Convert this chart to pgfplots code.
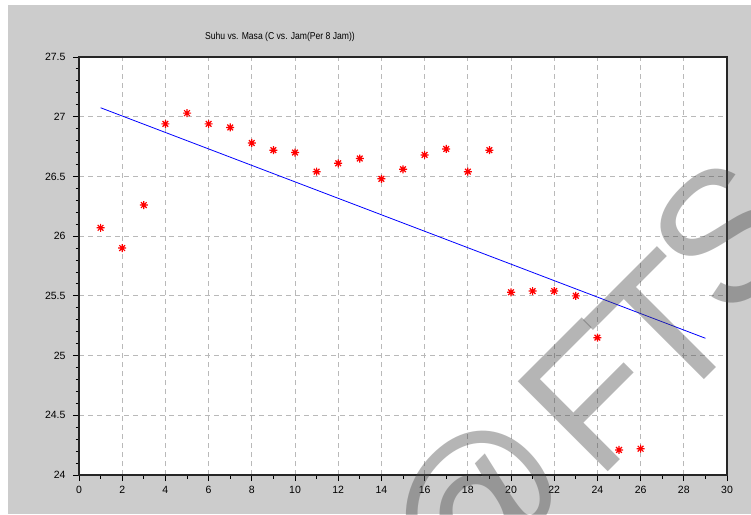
\documentclass[border=0pt]{standalone}
\usepackage{pgfplots}
\pgfplotsset{compat=1.18}
\usepackage{fontspec}
\setmainfont{Liberation Sans}
\definecolor{figbg}{RGB}{204,204,204}
\definecolor{gridc}{RGB}{185,185,185}

% eight-armed star like the plotting program's marker
\pgfdeclareplotmark{star8}{%
  \pgfpathmoveto{\pgfqpoint{-\pgfplotmarksize}{0pt}}\pgfpathlineto{\pgfqpoint{\pgfplotmarksize}{0pt}}%
  \pgfpathmoveto{\pgfqpoint{0pt}{-\pgfplotmarksize}}\pgfpathlineto{\pgfqpoint{0pt}{\pgfplotmarksize}}%
  \pgfpathmoveto{\pgfqpoint{-0.71\pgfplotmarksize}{-0.71\pgfplotmarksize}}\pgfpathlineto{\pgfqpoint{0.71\pgfplotmarksize}{0.71\pgfplotmarksize}}%
  \pgfpathmoveto{\pgfqpoint{-0.71\pgfplotmarksize}{0.71\pgfplotmarksize}}\pgfpathlineto{\pgfqpoint{0.71\pgfplotmarksize}{-0.71\pgfplotmarksize}}%
  \pgfusepathqstroke}

\begin{document}
\begin{tikzpicture}[x=1pt,y=1pt]
\fill[white] (0,0) rectangle (751,514);
\fill[figbg] (8,0) rectangle (751,509);
\begin{axis}[
  at={(79pt,39pt)}, anchor=south west,
  scale only axis, width=648pt, height=418pt,
  xmin=0, xmax=30, ymin=24, ymax=27.5,
  xtick distance=2, ytick distance=0.5,
  minor x tick num=1, minor y tick num=4,
  tick align=outside, xtick pos=bottom, ytick pos=left,
  major tick length=6pt, minor tick length=3.5pt,
  axis background/.style={fill=white},
  grid=major,
  major grid style={gridc, dash pattern=on 5pt off 4pt, line width=0.8pt},
  axis line style={black!85, line width=1.1pt},
  tick style={black, line width=0.9pt},
  ticklabel style={font=\fontsize{10.5}{10.5}\selectfont},
  /pgf/number format/assume math mode=true,
  xticklabel style={yshift=-2pt},
  yticklabel style={xshift=-4pt},
]
\addplot[only marks, mark=star8, mark size=4pt, red, line width=1.2pt] coordinates {
(1,26.07)(2,25.90)(3,26.26)(4,26.94)(5,27.03)(6,26.94)(7,26.91)
(8,26.78)(9,26.72)(10,26.70)(11,26.54)(12,26.61)(13,26.65)(14,26.48)
(15,26.56)(16,26.68)(17,26.73)(18,26.54)(19,26.72)(20,25.53)(21,25.54)
(22,25.54)(23,25.50)(24,25.15)(25,24.21)(26,24.22)};
\addplot[blue, line width=0.8pt, no markers] coordinates {(1,27.075)(29,25.145)};
\end{axis}
\node[font=\fontsize{10}{10}\selectfont, xscale=0.86] at (280,477) {Suhu vs. Masa (C vs. Jam(Per 8 Jam))};
\begin{scope}
\clip (0,0) rectangle (751,514);
\tikzset{wm/.style={rotate=45, text=black!72, opacity=0.4, inner sep=0pt,
  font=\fontsize{185}{185}\selectfont}}
\node[wm] at (484,-3) {@};
\node[wm] at (592,116) {F};
\node[wm] at (665,185) {T};
\node[wm] at (726,278) {S};
\end{scope}
\end{tikzpicture}
\end{document}
